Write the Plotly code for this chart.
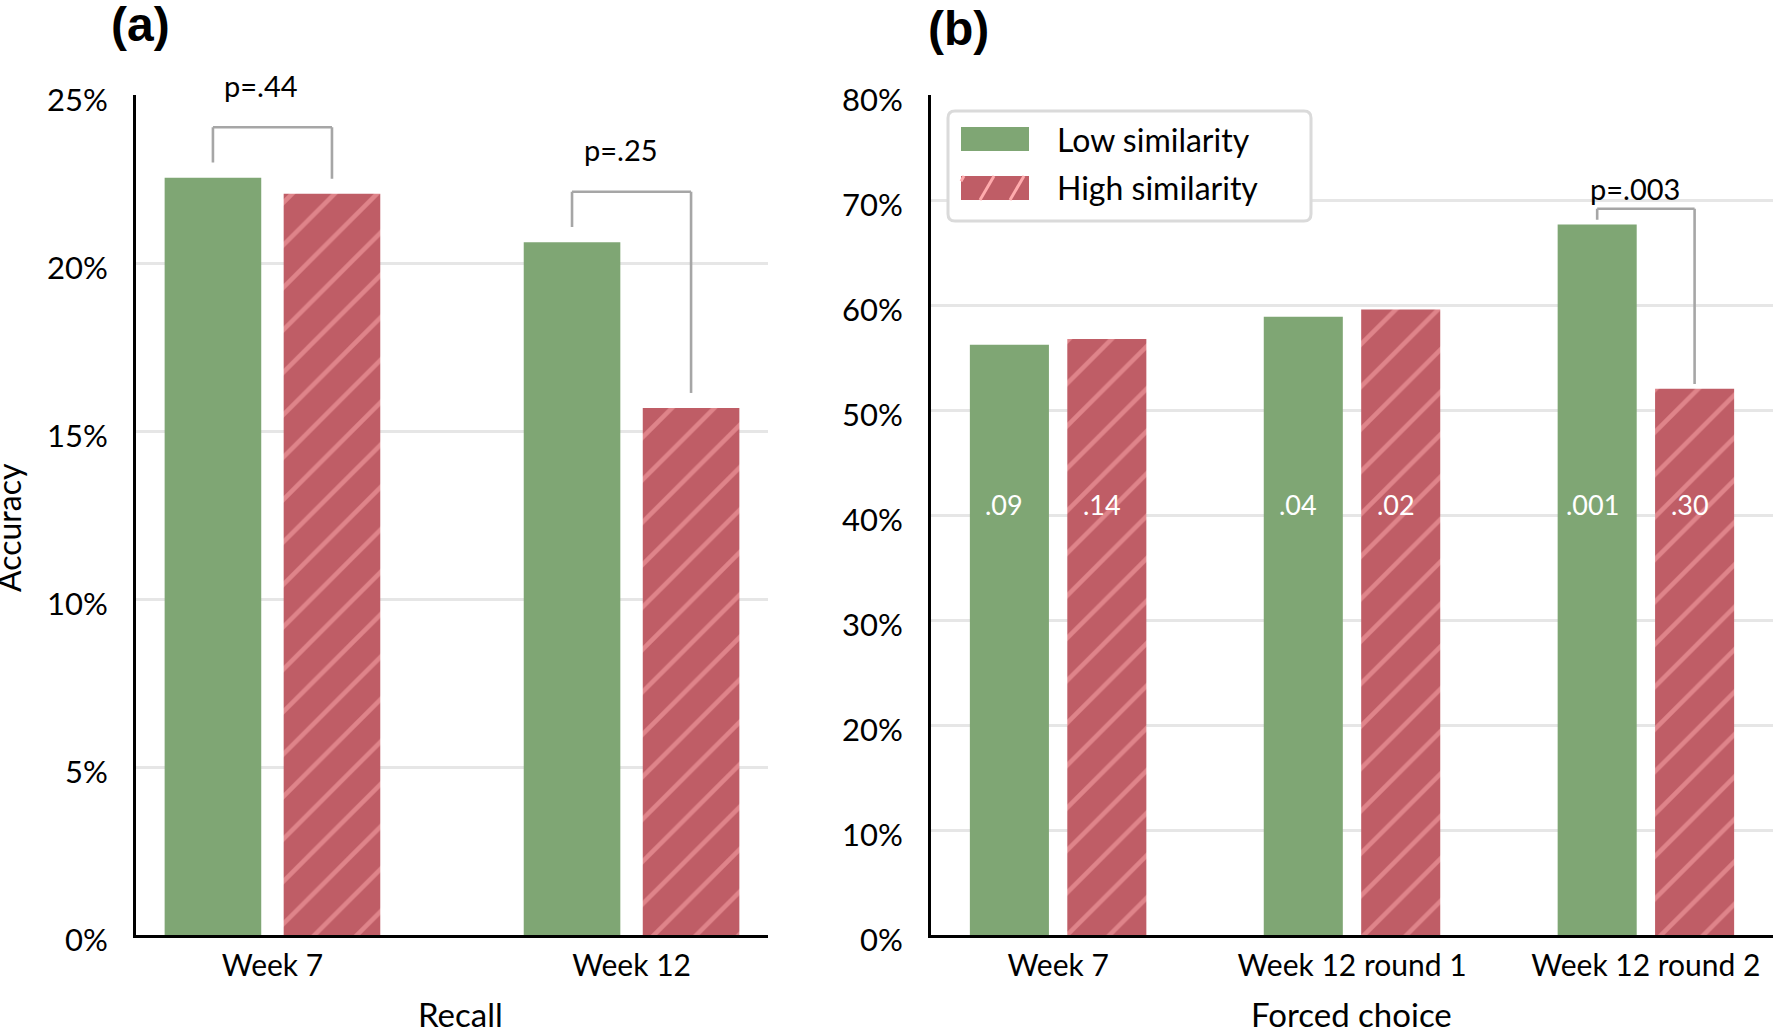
import plotly.graph_objects as go

# ---------------- data ----------------
recall_cats = ["Week 7", "Week 12"]
recall_low = [22.55, 20.63]
recall_high = [22.07, 15.69]
recall_pair_p = ["p=.44", "p=.25"]

fc_cats = ["Week 7", "Week 12 round 1", "Week 12 round 2"]
fc_low = [56.25, 58.9, 67.7]
fc_high = [56.8, 59.6, 52.05]
fc_low_p = [".09", ".04", ".001"]
fc_high_p = [".14", ".02", ".30"]
fc_pair_p = [None, None, "p=.003"]

series_names = ["Low similarity", "High similarity"]
recall_ticks = [0, 5, 10, 15, 20, 25]
fc_ticks = [0, 10, 20, 30, 40, 50, 60, 70, 80]

# ---------------- style ----------------
W, H = 1773, 1029
GREEN = "#7FA674"
RED = "#BF5D66"
PINK = "#FFABAD"
GRID = "#E6E6E6"
BRACKET = "#A6A6A6"
FONT = "Lato"
BARGAP = 0.337
BARGROUPGAP = 0.1885
OFF = (1 - BARGAP) / 4  # bar center offset from category center
PATTERN = dict(shape="/", fgcolor=PINK, size=30, solidity=0.15)


def px(x):
    return x / W


def py(y):
    return 1 - y / H


ydom = [py(935), py(95.4)]

fig = go.Figure()

# panel (a)
fig.add_trace(go.Bar(x=recall_cats, y=recall_low, name=series_names[0],
                     marker=dict(color=GREEN, line=dict(width=0)),
                     xaxis="x", yaxis="y", showlegend=False))
fig.add_trace(go.Bar(x=recall_cats, y=recall_high, name=series_names[1],
                     marker=dict(color=RED, line=dict(width=0), pattern=PATTERN),
                     xaxis="x", yaxis="y", showlegend=False))
# panel (b)
fig.add_trace(go.Bar(x=fc_cats, y=fc_low, name=series_names[0],
                     marker=dict(color=GREEN, line=dict(width=0)),
                     xaxis="x2", yaxis="y2", showlegend=False))
fig.add_trace(go.Bar(x=fc_cats, y=fc_high, name=series_names[1],
                     marker=dict(color=RED, line=dict(width=0), pattern=PATTERN),
                     xaxis="x2", yaxis="y2", showlegend=False))

shapes = []
annotations = []


def bracket(i, lo, hi, label, xr, yr, lab_shift):
    top = max(lo, hi) + 1.5
    line = dict(color=BRACKET, width=2.6)
    shapes.append(dict(type="line", xref=xr, yref=yr, x0=i - OFF, x1=i - OFF,
                       y0=lo + 0.45, y1=top, line=line))
    shapes.append(dict(type="line", xref=xr, yref=yr, x0=i + OFF, x1=i + OFF,
                       y0=hi + 0.45, y1=top, line=line))
    shapes.append(dict(type="line", xref=xr, yref=yr, x0=i - OFF, x1=i + OFF,
                       y0=top, y1=top, line=line))
    annotations.append(dict(x=i, y=top, xref=xr, yref=yr, text=label,
                            showarrow=False, xanchor="center", yanchor="middle",
                            yshift=lab_shift, xshift=-11,
                            font=dict(family=FONT, size=29, color="#000")))


for i, lab in enumerate(recall_pair_p):
    bracket(i, recall_low[i], recall_high[i], lab, "x", "y", 42)
for i, lab in enumerate(fc_pair_p):
    if lab:
        bracket(i, fc_low[i], fc_high[i], lab, "x2", "y2", 20)

# in-bar p labels
for i in range(len(fc_cats)):
    for off, lab in ((-OFF, fc_low_p[i]), (OFF, fc_high_p[i])):
        annotations.append(dict(x=i + off, y=41, xref="x2", yref="y2", text=lab,
                                showarrow=False, xanchor="center", yanchor="middle",
                                xshift=-5,
                                font=dict(family=FONT, size=27, color="white")))

# manual legend
lx0, lx1, ly0, ly1, r = 948, 1311, 111, 221, 7
legend_path = (f"M{px(lx0 + r)},{py(ly0)} L{px(lx1 - r)},{py(ly0)} "
               f"Q{px(lx1)},{py(ly0)} {px(lx1)},{py(ly0 + r)} "
               f"L{px(lx1)},{py(ly1 - r)} Q{px(lx1)},{py(ly1)} {px(lx1 - r)},{py(ly1)} "
               f"L{px(lx0 + r)},{py(ly1)} Q{px(lx0)},{py(ly1)} {px(lx0)},{py(ly1 - r)} "
               f"L{px(lx0)},{py(ly0 + r)} Q{px(lx0)},{py(ly0)} {px(lx0 + r)},{py(ly0)} Z")
shapes.append(dict(type="path", xref="paper", yref="paper", path=legend_path,
                   line=dict(color="#DADADA", width=3), fillcolor="white", layer="above"))
sx0, sx1 = 961, 1029
shapes.append(dict(type="rect", xref="paper", yref="paper", x0=px(sx0), x1=px(sx1),
                   y0=py(151), y1=py(127), fillcolor=GREEN, line=dict(width=0), layer="above"))
shapes.append(dict(type="rect", xref="paper", yref="paper", x0=px(sx0), x1=px(sx1),
                   y0=py(200), y1=py(176), fillcolor=RED, line=dict(width=0), layer="above"))
# stripes in legend swatch
dx = 14
for xb in (950, 980, 1010, 1040):
    t0 = max(0.0, (sx0 - xb) / dx)
    t1 = min(1.0, (sx1 - xb) / dx)
    if t1 <= t0:
        continue
    shapes.append(dict(type="line", xref="paper", yref="paper",
                       x0=px(xb + t0 * dx), y0=py(200 - 24 * t0),
                       x1=px(xb + t1 * dx), y1=py(200 - 24 * t1),
                       line=dict(color=PINK, width=3), layer="above"))
for name, yc in zip(series_names, (139, 188)):
    annotations.append(dict(x=px(1055), y=py(yc), xref="paper", yref="paper", text=name,
                            showarrow=False, xanchor="left", yanchor="middle",
                            font=dict(family=FONT, size=32, color="#000")))

# panel labels and axis titles
annotations.append(dict(x=px(140), y=py(24), xref="paper", yref="paper", text="<b>(a)</b>",
                        showarrow=False, xanchor="center", yanchor="middle",
                        font=dict(family="Liberation Sans", size=48, color="#000")))
annotations.append(dict(x=px(958), y=py(28), xref="paper", yref="paper", text="<b>(b)</b>",
                        showarrow=False, xanchor="center", yanchor="middle",
                        font=dict(family="Liberation Sans", size=48, color="#000")))
annotations.append(dict(x=px(460), y=py(1014), xref="paper", yref="paper", text="Recall",
                        showarrow=False, xanchor="center", yanchor="middle",
                        font=dict(family=FONT, size=33, color="#000")))
annotations.append(dict(x=px(1351), y=py(1014), xref="paper", yref="paper", text="Forced choice",
                        showarrow=False, xanchor="center", yanchor="middle",
                        font=dict(family=FONT, size=33, color="#000")))
annotations.append(dict(x=px(8), y=py(528), xref="paper", yref="paper", text="Accuracy",
                        showarrow=False, xanchor="center", yanchor="middle", textangle=-90,
                        font=dict(family=FONT, size=32, color="#000")))

axis_common = dict(showline=True, linecolor="black", linewidth=3, zeroline=False,
                   tickfont=dict(family=FONT, size=30, color="#000"))
yaxis_common = dict(showline=True, linecolor="black", linewidth=3, zeroline=False,
                    showgrid=True, gridcolor=GRID, gridwidth=2.5,
                    ticks="outside", ticklen=19, tickcolor="rgba(0,0,0,0)",
                    ticklabelshift=5,
                    tickfont=dict(family=FONT, size=31, color="#000"))

fig.update_layout(
    width=W, height=H, autosize=False,
    margin=dict(l=0, r=0, t=0, b=0, pad=0, autoexpand=False),
    paper_bgcolor="white", plot_bgcolor="white",
    barmode="group", bargap=BARGAP, bargroupgap=BARGROUPGAP,
    showlegend=False,
    xaxis=dict(domain=[px(136), px(768)], anchor="y", type="category",
               range=[-0.38, 1.38], showgrid=False, ticks="outside", ticklen=2,
               tickcolor="rgba(0,0,0,0)", automargin=False, **axis_common),
    yaxis=dict(domain=ydom, anchor="x", range=[0, 25], tickmode="array",
               tickvals=recall_ticks, ticktext=[f"{v}%" for v in recall_ticks],
               automargin=False, **yaxis_common),
    xaxis2=dict(domain=[px(931), 1.0], anchor="y2", type="category",
                range=[-0.4325, 2.4325], showgrid=False, ticks="outside", ticklen=2,
                tickcolor="rgba(0,0,0,0)", automargin=False, **axis_common),
    yaxis2=dict(domain=ydom, anchor="x2", range=[0, 80], tickmode="array",
                tickvals=fc_ticks, ticktext=[f"{v}%" for v in fc_ticks],
                automargin=False, **yaxis_common),
    shapes=shapes,
    annotations=annotations,
)

fig.write_html("out.html",
               config={"displayModeBar": False},
               post_script="document.body.style.margin='0px';"
                           "document.body.style.overflow='hidden';")
